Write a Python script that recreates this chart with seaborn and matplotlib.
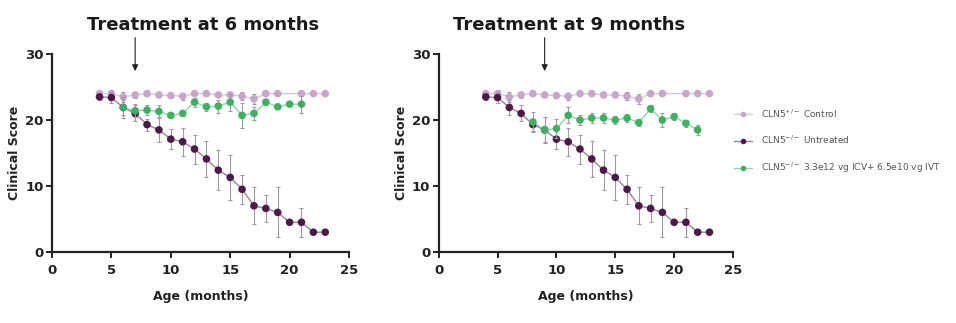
import numpy as np
import pandas as pd
import matplotlib
matplotlib.use("Agg")
import matplotlib.pyplot as plt
import seaborn as sns
from matplotlib.lines import Line2D

# ---------------- data ----------------
ctrl_age = [4, 5, 6, 7, 8, 9, 10, 11, 12, 13, 14, 15, 16, 17, 18, 19, 21, 22, 23]
ctrl_mean = [24.0, 24.0, 23.5, 23.8, 24.0, 23.8, 23.7, 23.6, 24.0, 24.0, 23.8, 23.8, 23.6, 23.2, 24.0, 24.0, 24.0, 24.0, 24.0]
ctrl_sd = [0.4, 0.5, 0.8, 0.5, 0.2, 0.3, 0.4, 0.5, 0.2, 0.2, 0.3, 0.3, 0.6, 0.8, 0.2, 0.2, 0.0, 0.0, 0.0]

untr_age = [4, 5, 6, 7, 8, 9, 10, 11, 12, 13, 14, 15, 16, 17, 18, 19, 20, 21, 22, 23]
untr_mean = [23.5, 23.4, 21.9, 21.0, 19.3, 18.5, 17.1, 16.7, 15.6, 14.1, 12.4, 11.3, 9.5, 7.0, 6.6, 6.0, 4.5, 4.5, 3.0, 3.0]
untr_sd = [0.4, 0.8, 1.2, 1.2, 0.9, 1.9, 1.5, 2.1, 2.2, 2.7, 3.0, 3.4, 2.2, 2.8, 2.0, 3.8, 0.0, 2.2, 0.0, 0.0]

tr6_age = [6, 7, 8, 9, 10, 11, 12, 13, 14, 15, 16, 17, 18, 19, 20, 21]
tr6_mean = [21.9, 21.4, 21.5, 21.3, 20.7, 21.0, 22.7, 22.0, 22.1, 22.7, 20.7, 21.0, 22.7, 22.0, 22.4, 22.4]
tr6_sd = [1.6, 1.0, 0.8, 1.0, 0.4, 0.4, 0.7, 0.6, 1.0, 1.3, 1.9, 1.0, 0.5, 0.3, 0.3, 1.3]

tr9_age = [8, 9, 10, 11, 12, 13, 14, 15, 16, 17, 18, 19, 20, 21, 22]
tr9_mean = [19.7, 18.5, 18.7, 20.7, 20.0, 20.3, 20.3, 20.0, 20.3, 19.6, 21.7, 20.0, 20.5, 19.5, 18.5]
tr9_sd = [1.5, 2.0, 1.5, 1.2, 0.8, 0.8, 0.8, 0.6, 0.6, 0.5, 0.5, 1.0, 0.5, 0.5, 0.7]

titles = ["Treatment at 6 months", "Treatment at 9 months"]
treat_ages = [7, 9]
legend_labels = [r"CLN5$^{+/-}$ Control", r"CLN5$^{-/-}$ Untreated",
                 r"CLN5$^{-/-}$ 3.3e12 vg ICV+ 6.5e10 vg IVT"]
xticks = [0, 5, 10, 15, 20, 25]
yticks = [0, 10, 20, 30]

# ---------------- style ----------------
sns.set_theme(style="ticks")
plt.rcParams["font.family"] = ["DejaVu Sans"]

c_ctrl = "#c7a6ca"
c_ctrl_line = "#dcc4de"
c_untr = "#4b1a47"
c_untr_line = "#a77aa3"
c_tr = "#3fb062"
c_tr_line = "#8fd6a2"
c_err = "#a496a5"

fig = plt.figure(figsize=(9.56, 3.23), dpi=100)
axes = [fig.add_axes([52 / 956, 1 - 252 / 323, 297 / 956, 198 / 323]),
        fig.add_axes([438.7 / 956, 1 - 252 / 323, 294.3 / 956, 198 / 323])]

treated = [(tr6_age, tr6_mean, tr6_sd), (tr9_age, tr9_mean, tr9_sd)]

for i, ax in enumerate(axes):
    t_age, t_mean, t_sd = treated[i]
    series = [
        (ctrl_age, ctrl_mean, ctrl_sd, c_ctrl, c_ctrl_line, 1),
        (untr_age, untr_mean, untr_sd, c_untr, c_untr_line, 2),
        (t_age, t_mean, t_sd, c_tr, c_tr_line, 3),
    ]
    for age, mean, sd, mc, lc, z in series:
        df = pd.DataFrame({"age": age, "score": mean})
        ax.errorbar(age, mean, yerr=sd, fmt="none", ecolor=c_err, elinewidth=0.8,
                    capsize=1.5, capthick=0.8, zorder=z)
        sns.lineplot(data=df, x="age", y="score", ax=ax, color=lc, lw=1.0,
                     zorder=z + 0.1, legend=False)
        sns.scatterplot(data=df, x="age", y="score", ax=ax, color=mc, s=30,
                        edgecolor="none", zorder=z + 0.2, legend=False)

    ax.set_xlim(0, 25)
    ax.set_ylim(0, 30)
    ax.set_xticks(xticks)
    ax.set_yticks(yticks)
    for lab in ax.get_xticklabels() + ax.get_yticklabels():
        lab.set_fontweight("bold")
        lab.set_fontsize(9.5)
        lab.set_color("#222222")
    ax.set_xlabel("Age (months)", fontsize=9, fontweight="bold", color="#222222", labelpad=9)
    ax.set_ylabel("Clinical Score", fontsize=9, fontweight="bold", color="#222222", labelpad=3)
    sns.despine(ax=ax)
    for s in ["left", "bottom"]:
        ax.spines[s].set_linewidth(1.6)
        ax.spines[s].set_color("#222222")
    ax.tick_params(axis="x", width=1.4, length=4, color="#222222", pad=5)
    ax.tick_params(axis="y", width=1.4, length=4, color="#222222", pad=2)

    ax.annotate("", xy=(treat_ages[i], 27.0), xytext=(treat_ages[i], 32.9),
                xycoords="data", annotation_clip=False,
                arrowprops=dict(arrowstyle="-|>", color="#222222", lw=0.8,
                                mutation_scale=9))

fig.text(203 / 956, 1 - 25 / 323, titles[0], ha="center", va="center",
         fontsize=13, fontweight="bold", color="#1a1a1a")
fig.text(569 / 956, 1 - 25 / 323, titles[1], ha="center", va="center",
         fontsize=13, fontweight="bold", color="#1a1a1a")

handles = [
    Line2D([], [], color=c_ctrl_line, lw=1, marker="o", markerfacecolor=c_ctrl,
           markeredgecolor="none", markersize=4),
    Line2D([], [], color=c_untr_line, lw=1, marker="o", markerfacecolor=c_untr,
           markeredgecolor="none", markersize=4),
    Line2D([], [], color=c_tr_line, lw=1, marker="o", markerfacecolor=c_tr,
           markeredgecolor="none", markersize=4),
]
fig.legend(handles, legend_labels, loc="upper left",
           bbox_to_anchor=(726 / 956, 1 - 99 / 323), frameon=False,
           fontsize=6.5, labelspacing=1.6, handlelength=2.0, handletextpad=1.0,
           labelcolor="#555555")

fig.savefig("out.png", dpi=100)
